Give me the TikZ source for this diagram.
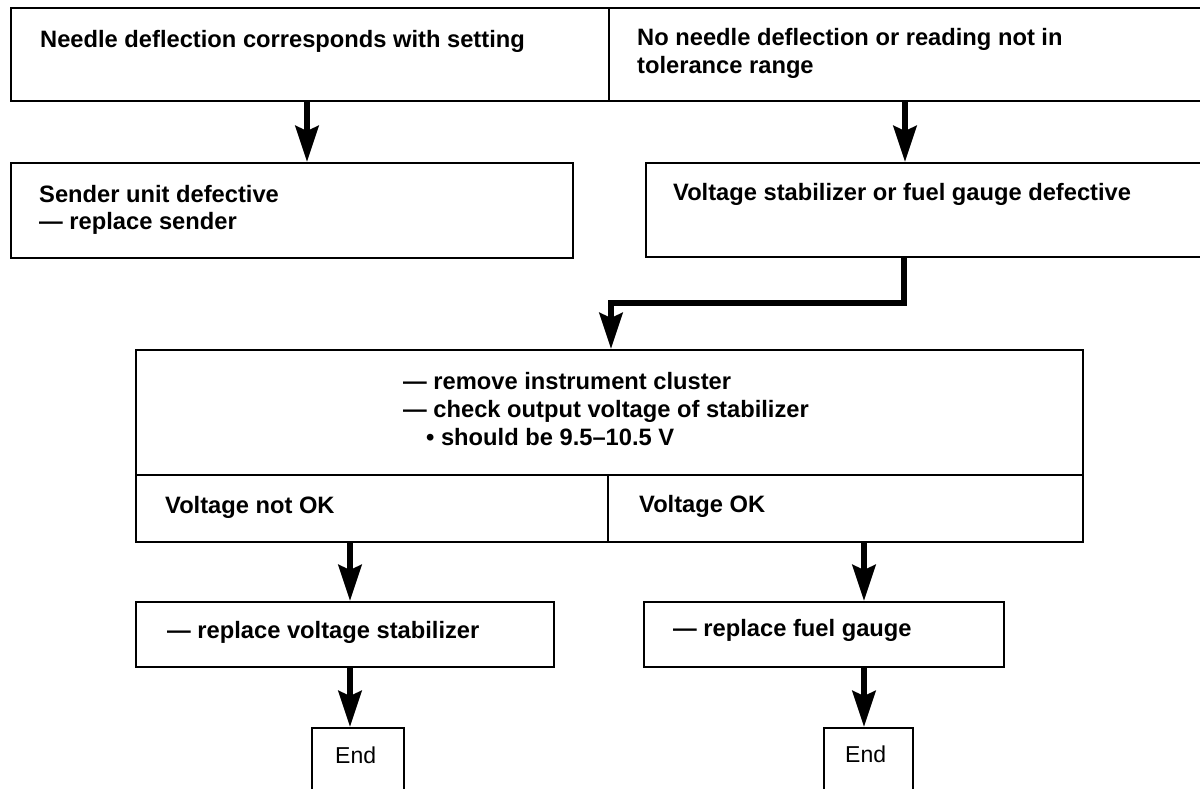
\documentclass[tikz,border=0pt]{standalone}
\usepackage{fontspec}
\setmainfont{Liberation Sans}
\usetikzlibrary{arrows.meta}
\begin{document}
\begin{tikzpicture}[x=1pt,y=-1pt,
  box/.style={draw, line width=1.7pt, rectangle, inner sep=0pt, anchor=north west},
  txt/.style={anchor=base west, inner sep=0pt, font=\bfseries\fontsize{23.7}{28}\selectfont},
  endtxt/.style={anchor=base west, inner sep=0pt, font=\fontsize{23}{28}\selectfont},
  arr/.style={line width=6pt, line join=miter, -{Stealth[length=36pt,width=23pt,inset=5pt]}}]
\useasboundingbox (0,0) rectangle (1200,788);
\clip (0,0) rectangle (1200,788);
% boxes
\node[box, minimum width=598pt, minimum height=93pt] (n1) at (10,7) {};
\node[box, minimum width=610pt, minimum height=93pt] (n2) at (608,7) {};
\node[box, minimum width=562pt, minimum height=95pt] (sender) at (10,162) {};
\node[box, minimum width=570pt, minimum height=94pt] (volt) at (645,162) {};
\node[box, minimum width=947pt, minimum height=125pt] (main) at (135,349) {};
\node[box, minimum width=472pt, minimum height=67pt] (vnok) at (135,474) {};
\node[box, minimum width=475pt, minimum height=67pt] (vok) at (607,474) {};
\node[box, minimum width=418pt, minimum height=65pt] (repl1) at (135,601) {};
\node[box, minimum width=360pt, minimum height=65pt] (repl2) at (643,601) {};
\node[box, minimum width=92pt, minimum height=80pt] (end1) at (311,727) {};
\node[box, minimum width=89pt, minimum height=80pt] (end2) at (823,727) {};
% texts
\node[txt] (t1) at (40,47) {Needle deflection corresponds with setting};
\node[txt] (t2a) at (637,45) {No needle deflection or reading not in};
\node[txt] (t2b) at (637,73) {tolerance range};
\node[txt] (t3a) at (39,202) {Sender unit defective};
\node[txt] (t3b) at (39,229) {— replace sender};
\node[txt] (t4) at (673,200) {Voltage stabilizer or fuel gauge defective};
\node[txt] (t5a) at (403,389) {— remove instrument cluster};
\node[txt] (t5b) at (403,417) {— check output voltage of stabilizer};
\node[txt] (t5c) at (426,445) {\textbullet\ should be 9.5–10.5 V};
\node[txt] (t6) at (165,513) {Voltage not OK};
\node[txt] (t7) at (639,512) {Voltage OK};
\node[txt] (t8) at (167,638) {— replace voltage stabilizer};
\node[txt] (t9) at (673,636) {— replace fuel gauge};
\node[endtxt] (t10) at (335,763) {End};
\node[endtxt] (t11) at (845,762) {End};
% connectors
\draw[arr] ([xshift=297pt]n1.south west) -- ([xshift=297pt]sender.north west);
\draw[arr] ([xshift=297pt]n2.south west) -- ([xshift=260pt]volt.north west);
\coordinate (elb) at (611,303);
\draw[arr] ([xshift=259pt]volt.south west) |- (elb) -- ([xshift=476pt]main.north west);
\draw[arr] ([xshift=215pt]vnok.south west) -- ([xshift=215pt]repl1.north west);
\draw[arr] ([xshift=257pt]vok.south west) -- ([xshift=221pt]repl2.north west);
\draw[arr] ([xshift=215pt]repl1.south west) -- ([xshift=39pt]end1.north west);
\draw[arr] ([xshift=221pt]repl2.south west) -- ([xshift=41pt]end2.north west);
\end{tikzpicture}
\end{document}
